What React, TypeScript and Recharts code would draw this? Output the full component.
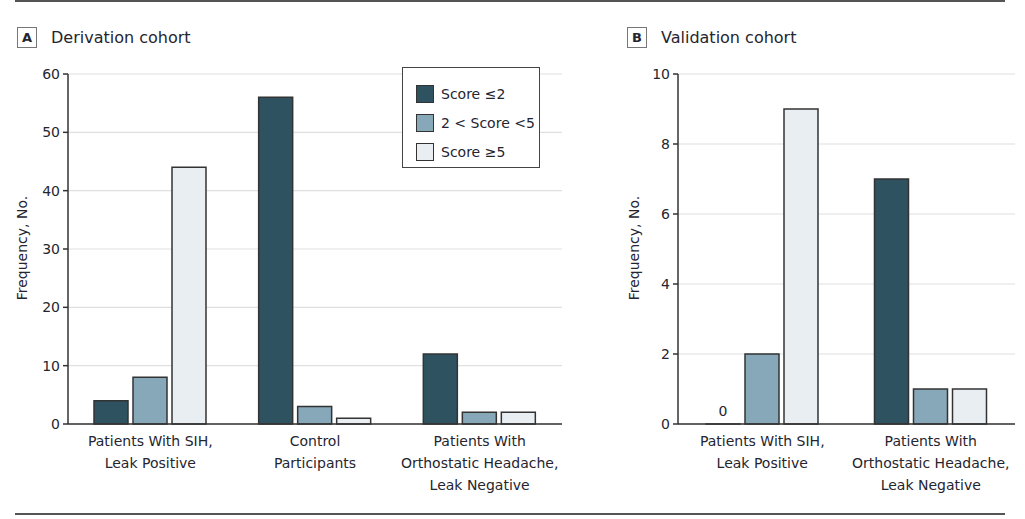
import React from 'react'
import { BarChart, Bar, XAxis, YAxis, CartesianGrid } from 'recharts'

const seriesNames = ['Score ≤2', '2 < Score <5', 'Score ≥5']
const seriesColors = ['#2e5260', '#87a8b8', '#e8eef2']

const derivationGroups = ['Patients With SIH,|Leak Positive', 'Control|Participants', 'Patients With|Orthostatic Headache,|Leak Negative']
const derivationLow = [4, 56, 12]
const derivationMid = [8, 3, 2]
const derivationHigh = [44, 1, 2]
const derivationTicks = [0, 10, 20, 30, 40, 50, 60]

const validationGroups = ['Patients With SIH,|Leak Positive', 'Patients With|Orthostatic Headache,|Leak Negative']
const validationLow = [0, 7]
const validationMid = [2, 1]
const validationHigh = [9, 1]
const validationTicks = [0, 2, 4, 6, 8, 10]

const FONT = '"DejaVu Sans", sans-serif'
const TEXT = '#25252f'
const AXIS = '#333'

const buildRows = (groups: string[], low: number[], mid: number[], high: number[]) =>
  groups.map((name, i) => ({ name, low: low[i], mid: mid[i], high: high[i] }))

const CategoryTick = (props: any) => {
  const { x, y, payload } = props
  const lines = String(payload.value).split('|')
  return (
    <text x={x} y={y + 14} textAnchor="middle" fill={TEXT} fontSize={14} fontFamily={FONT}>
      {lines.map((l, i) => (
        <tspan key={i} x={x} dy={i === 0 ? 0 : 22}>
          {l}
        </tspan>
      ))}
    </text>
  )
}

// prints "0" above a bar whose value is zero (bar kept alive by a tiny minPointSize)
const renderZero = (props: any) => {
  const vb = props.viewBox && props.viewBox.x != null ? props.viewBox : props
  const x = props.x ?? vb.x
  const y = props.y ?? vb.y
  const w = props.width ?? vb.width ?? 0
  const raw = props.value
  const v = Array.isArray(raw) ? raw[1] - raw[0] : Number(raw)
  if (v !== 0 || x == null || y == null) return null
  return (
    <text x={x + w / 2} y={y - 8} textAnchor="middle" fill={TEXT} fontSize={14} fontFamily={FONT}>
      0
    </text>
  )
}

const PanelTitle = ({ letter, title, left }: { letter: string; title: string; left: number }) => (
  <div style={{ position: 'absolute', left, top: 27, display: 'flex', alignItems: 'center' }}>
    <div
      style={{
        width: 20,
        height: 21,
        border: '1px solid #777',
        boxSizing: 'border-box',
        fontWeight: 'bold',
        fontSize: 13,
        lineHeight: '19px',
        textAlign: 'center',
        color: TEXT,
      }}
    >
      {letter}
    </div>
    <span style={{ marginLeft: 14, fontSize: 16, color: TEXT }}>{title}</span>
  </div>
)

const YLabel = ({ x }: { x: number }) => (
  <div
    style={{
      position: 'absolute',
      left: x - 60,
      top: 240,
      width: 120,
      textAlign: 'center',
      fontSize: 14,
      color: TEXT,
      transform: 'rotate(-90deg)',
    }}
  >
    Frequency, No.
  </div>
)

const Panel = ({ rows, ticks, width, showZero }: { rows: any[]; ticks: number[]; width: number; showZero?: boolean }) => (
  <BarChart width={width} height={519} data={rows} margin={{ top: 74, right: 10, bottom: 15, left: 18 }} barSize={34} barGap={5}>
    <CartesianGrid vertical={false} stroke="#e0e0e0" strokeWidth={1.2} />
    <XAxis dataKey="name" height={80} tickLine={false} axisLine={{ stroke: AXIS, strokeWidth: 1.5 }} tick={<CategoryTick />} interval={0} />
    <YAxis
      width={50}
      domain={[ticks[0], ticks[ticks.length - 1]]}
      ticks={ticks}
      interval={0}
      axisLine={{ stroke: AXIS, strokeWidth: 1.5 }}
      tickLine={{ stroke: AXIS, strokeWidth: 1.5 }}
      tickSize={5}
      tickMargin={3}
      tick={{ fill: TEXT, fontSize: 14, fontFamily: FONT }}
    />
    {(['low', 'mid', 'high'] as const).map((key, i) => (
      <Bar
        key={key}
        dataKey={key}
        name={seriesNames[i]}
        fill={seriesColors[i]}
        stroke={AXIS}
        strokeWidth={1.5}
        isAnimationActive={false}
        minPointSize={showZero && key === 'low' ? 0.01 : 0}
        label={showZero && key === 'low' ? renderZero : false}
      />
    ))}
  </BarChart>
)

const LegendBox = () => (
  <div
    style={{
      position: 'absolute',
      left: 402,
      top: 67,
      width: 138,
      height: 101,
      border: '1.5px solid #444',
      boxSizing: 'border-box',
      background: '#fff',
      padding: '11px 0 0 13px',
    }}
  >
    {seriesNames.map((n, i) => (
      <div key={n} style={{ display: 'flex', alignItems: 'center', height: 29 }}>
        <div style={{ width: 18, height: 18, background: seriesColors[i], border: `1.5px solid ${AXIS}`, boxSizing: 'border-box' }} />
        <span style={{ marginLeft: 7, fontSize: 14, color: TEXT }}>{n}</span>
      </div>
    ))}
  </div>
)

export default function App() {
  const derivationRows = buildRows(derivationGroups, derivationLow, derivationMid, derivationHigh)
  const validationRows = buildRows(validationGroups, validationLow, validationMid, validationHigh)
  return (
    <div
      style={{
        position: 'absolute',
        left: 0,
        top: 0,
        width: 1025,
        height: 519,
        background: '#fff',
        fontFamily: FONT,
        overflow: 'hidden',
      }}
    >
      <div style={{ position: 'absolute', left: 15, top: 0, width: 990, height: 2, background: '#555' }} />
      <div style={{ position: 'absolute', left: 15, top: 513, width: 990, height: 2, background: '#555' }} />

      <PanelTitle letter="A" title="Derivation cohort" left={17} />
      <PanelTitle letter="B" title="Validation cohort" left={627} />

      <div style={{ position: 'absolute', left: 0, top: 0 }}>
        <Panel rows={derivationRows} ticks={derivationTicks} width={572} />
      </div>
      <YLabel x={22} />
      <LegendBox />

      <div style={{ position: 'absolute', left: 610, top: 0 }}>
        <Panel rows={validationRows} ticks={validationTicks} width={415} showZero />
      </div>
      <YLabel x={634} />
    </div>
  )
}
